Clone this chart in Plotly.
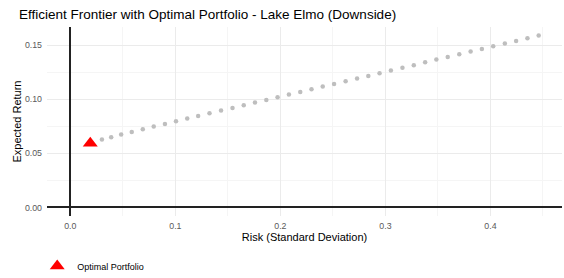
import plotly.graph_objects as go

# Efficient frontier points (risk = std dev, return)
frontier_risk = [0.0190, 0.0301, 0.0389, 0.0484, 0.0585, 0.0690, 0.0794, 0.0901, 0.1006, 0.1113,
                 0.1217, 0.1325, 0.1435, 0.1544, 0.1651, 0.1758, 0.1866, 0.1973, 0.2081, 0.2189,
                 0.2296, 0.2403, 0.2511, 0.2621, 0.2730, 0.2837, 0.2944, 0.3052, 0.3162, 0.3270,
                 0.3378, 0.3485, 0.3593, 0.3703, 0.3811, 0.3918, 0.4026, 0.4137, 0.4244, 0.4352,
                 0.4459]
frontier_return = [0.0601, 0.0628, 0.0650, 0.0675, 0.0699, 0.0724, 0.0749, 0.0773, 0.0798, 0.0823,
                   0.0847, 0.0872, 0.0896, 0.0921, 0.0945, 0.0970, 0.0994, 0.1020, 0.1044, 0.1068,
                   0.1093, 0.1118, 0.1142, 0.1167, 0.1192, 0.1216, 0.1241, 0.1267, 0.1293, 0.1316,
                   0.1342, 0.1368, 0.1392, 0.1417, 0.1442, 0.1466, 0.1491, 0.1516, 0.1540, 0.1565,
                   0.1590]

optimal_risk = [0.0190]
optimal_return = [0.0593]

x_ticks = [0.0, 0.1, 0.2, 0.3, 0.4]
x_tick_labels = ["0.0", "0.1", "0.2", "0.3", "0.4"]
y_ticks = [0.00, 0.05, 0.10, 0.15]
y_tick_labels = ["0.00", "0.05", "0.10", "0.15"]

FONT = "Liberation Sans, Arial, Helvetica, sans-serif"

fig = go.Figure()
fig.add_trace(go.Scatter(
    x=frontier_risk, y=frontier_return, mode="markers",
    marker=dict(color="#BEBEBE", size=4.5),
    showlegend=False, hoverinfo="skip"))
fig.add_trace(go.Scatter(
    x=optimal_risk, y=optimal_return, mode="markers",
    marker=dict(color="#FF0000", size=13, symbol="triangle-up"),
    name="Optimal Portfolio", showlegend=True))

fig.update_layout(
    width=564, height=278,
    margin=dict(l=47, r=2, t=27, b=62, autoexpand=False),
    paper_bgcolor="white", plot_bgcolor="white",
    font=dict(family=FONT, color="black"),
    title=dict(text="Efficient Frontier with Optimal Portfolio - Lake Elmo (Downside)",
               x=19/564, xanchor="left", y=1 - 14/278, yanchor="middle", yref="container",
               font=dict(size=13.5, color="black")),
    legend=dict(orientation="h", x=-0.019, xanchor="left", y=-0.265, yanchor="middle",
                font=dict(size=9, color="black"), bgcolor="rgba(0,0,0,0)",
                itemwidth=30, tracegroupgap=0),
    xaxis=dict(
        range=[-0.0222, 0.4681], automargin=False,
        tickvals=x_ticks, ticktext=x_tick_labels,
        showgrid=True, gridcolor="#EBEBEB", gridwidth=1,
        minor=dict(dtick=0.05, tick0=0, showgrid=True, gridcolor="#F5F5F5", gridwidth=0.6),
        zeroline=True, zerolinecolor="#222222", zerolinewidth=1.6,
        showline=False, ticks="", ticklabelstandoff=3,
        tickfont=dict(size=8.8, color="#5A5A5A"),
        title=dict(text="Risk (Standard Deviation)", font=dict(size=11, color="black"), standoff=2),
    ),
    yaxis=dict(
        range=[-0.0079, 0.1669], automargin=False,
        tickvals=y_ticks, ticktext=y_tick_labels,
        showgrid=True, gridcolor="#EBEBEB", gridwidth=1,
        minor=dict(dtick=0.025, tick0=0, showgrid=True, gridcolor="#F5F5F5", gridwidth=0.6),
        zeroline=True, zerolinecolor="#222222", zerolinewidth=1.6,
        showline=False, ticks="", ticklabelstandoff=4,
        tickfont=dict(size=8.8, color="#5A5A5A"),
        title=dict(text="Expected Return", font=dict(size=11, color="black"), standoff=1),
    ),
)

fig.write_html("out.html", config={"displayModeBar": False},
               post_script="document.body.style.margin='0';document.body.style.overflow='hidden';")
